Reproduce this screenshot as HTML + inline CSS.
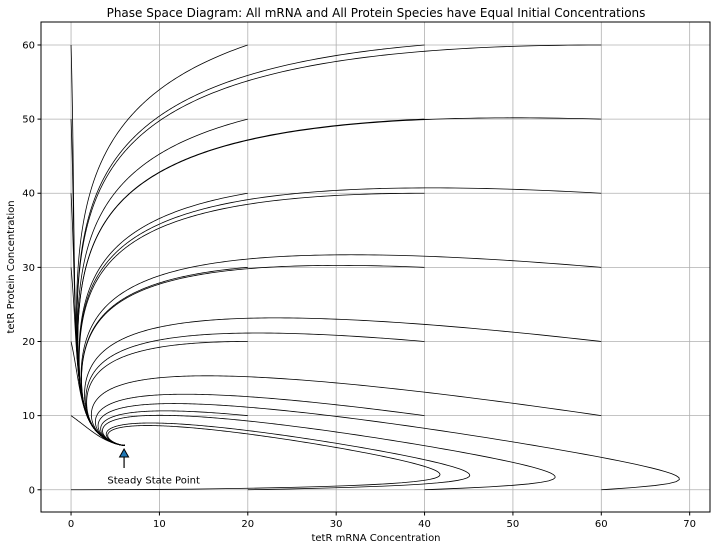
<!DOCTYPE html>
<html><head><meta charset="utf-8"><style>
body{margin:0;background:#fff;}
svg text{font-family:"DejaVu Sans","Liberation Sans",sans-serif;}
</style></head><body>
<svg id="chart" width="721" height="550" xmlns="http://www.w3.org/2000/svg">
<rect x="0" y="0" width="721" height="550" fill="#fff"/>
<text x="376" y="17" text-anchor="middle" font-size="12">Phase Space Diagram: All mRNA and All Protein Species have Equal Initial Concentrations</text>
<g id="grid"></g><g id="ticks"></g><g id="series"></g>
<rect x="41" y="22" width="669" height="490" fill="none" stroke="#000" stroke-width="1"/>
<text x="376" y="541" text-anchor="middle" font-size="10">tetR mRNA Concentration</text>
<text x="14" y="267" text-anchor="middle" font-size="10" transform="rotate(-90 14 267)">tetR Protein Concentration</text>
<g id="annot"></g>
</svg>
<script>
const xTicks=[0,10,20,30,40,50,60,70];
const yTicks=[0,10,20,30,40,50,60];
const initMrna=[0,20,40,60];
const initProtein=[0,10,20,30,40,50,60];
const steadyState=[6.0,5.5];
const annotText=[4.0,1.0];
const params={alpha:216,alpha0:0.216,n:2,beta:0.2};
const xMin=-3.4,xMax=72.3,yMin=-3.0,yMax=63.1;
const L=41,R=710,T=22,B=512;
const sx=v=>L+(v-xMin)/(xMax-xMin)*(R-L);
const sy=v=>B-(v-yMin)/(yMax-yMin)*(B-T);
const NS='http://www.w3.org/2000/svg';
function mk(tag,attrs,parent){const e=document.createElementNS(NS,tag);for(const k in attrs)e.setAttribute(k,attrs[k]);parent.appendChild(e);return e;}
const grid=document.getElementById('grid'),ticks=document.getElementById('ticks');
xTicks.forEach(t=>{
 const g=mk('line',{x1:sx(t),x2:sx(t),y1:T,y2:B,stroke:'#b0b0b0','stroke-width':0.8},grid);
 
 
 const tk=mk('line',{x1:sx(t),x2:sx(t),y1:B,y2:B+3.5,stroke:'#000'},ticks);
 
 
 const lb=mk('text',{x:sx(t),y:B+15,'text-anchor':'middle','font-size':10},ticks);
 lb.textContent=t;
 
 
});
yTicks.forEach(t=>{
 const g=mk('line',{x1:L,x2:R,y1:sy(t),y2:sy(t),stroke:'#b0b0b0','stroke-width':0.8},grid);
 
 
 const tk=mk('line',{x1:L-3.5,x2:L,y1:sy(t),y2:sy(t),stroke:'#000'},ticks);
 
 
 const lb=mk('text',{x:L-6,y:sy(t)+3.5,'text-anchor':'end','font-size':10},ticks);
 lb.textContent=t;
 
 
});
function deriv(m,p){const {alpha,alpha0,n,beta}=params;return [-m+alpha/(1+Math.pow(Math.max(p,0),n))+alpha0,-beta*(p-m)];}
const series=document.getElementById('series');
initMrna.forEach(m0=>initProtein.forEach(p0=>{
 let m=m0,p=p0,dt=0.005,pts=[[m,p]];
 for(let i=0;i<16000;i++){
  const k1=deriv(m,p),k2=deriv(m+dt/2*k1[0],p+dt/2*k1[1]),k3=deriv(m+dt/2*k2[0],p+dt/2*k2[1]),k4=deriv(m+dt*k3[0],p+dt*k3[1]);
  m+=dt/6*(k1[0]+2*k2[0]+2*k3[0]+k4[0]);p+=dt/6*(k1[1]+2*k2[1]+2*k3[1]+k4[1]);
  if(i%4===0)pts.push([m,p]);
 }
 const d='M'+pts.map(q=>sx(q[0]).toFixed(2)+','+sy(q[1]).toFixed(2)).join('L');
 const path=mk('path',{d:d,fill:'none',stroke:'#000','stroke-width':0.8},series);
 
 
}));
const annot=document.getElementById('annot');
const ax=sx(steadyState[0]),ay=sy(steadyState[1]);
const ln=mk('line',{x1:ax,x2:ax,y1:ay+7,y2:ay+19,stroke:'#000','stroke-width':1.2},annot);


const tri=mk('polygon',{points:`${ax},${ay} ${ax-4.5},${ay+8} ${ax+4.5},${ay+8}`,fill:'#1f77b4',stroke:'#000','stroke-width':1},annot);


const at=mk('text',{x:sx(annotText[0])+1,y:sy(annotText[1])+1,'font-size':10},annot);
at.textContent='Steady State Point';


</script>
</body></html>
